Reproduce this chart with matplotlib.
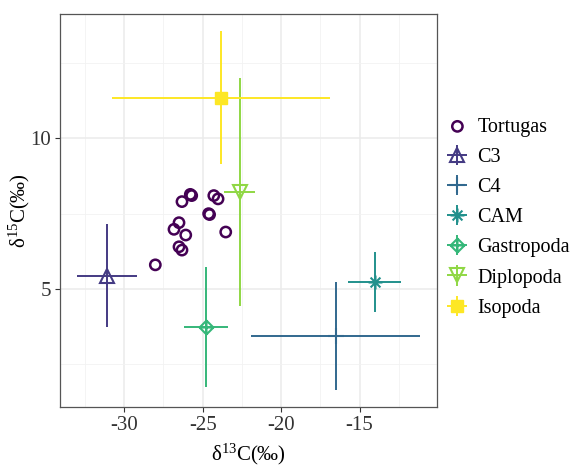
import matplotlib
matplotlib.use("Agg")
import matplotlib.pyplot as plt
from matplotlib.ticker import MultipleLocator
from matplotlib.path import Path
import numpy as np

plt.rcParams['font.family'] = ['Liberation Serif', 'DejaVu Serif']
plt.rcParams['mathtext.fontset'] = 'custom'
plt.rcParams['mathtext.rm'] = 'Liberation Serif'
plt.rcParams['axes.unicode_minus'] = False

# Tortugas individual points
tort_x = [-28.02, -26.83, -26.51, -26.08, -26.51, -26.32, -26.32, -25.79, -25.70,
          -24.62, -24.56, -24.29, -24.02, -23.53]
tort_y = [5.80, 6.98, 7.20, 6.79, 6.40, 6.29, 7.90, 8.14, 8.10,
          7.50, 7.47, 8.10, 7.99, 6.89]

# Group means and SD
groups = ["C3", "C4", "CAM", "Gastropoda", "Diplopoda", "Isopoda"]
grp_x = [-31.12, -16.53, -14.04, -24.80, -22.64, -23.83]
grp_y = [5.44, 3.45, 5.24, 3.74, 8.23, 11.35]
grp_xerr = [1.90, 5.38, 1.67, 1.39, 1.00, 6.98]
grp_yerr = [1.70, 1.79, 1.00, 2.00, 3.79, 2.21]

colors = ["#443A83", "#31688E", "#21908C", "#35B779", "#8FD744", "#FDE725"]

# asterisk marker (plus + x)
a = 1 / np.sqrt(2)
star_verts = [(0, -1), (0, 1), (-1, 0), (1, 0), (-a, -a), (a, a), (-a, a), (a, -a)]
star_codes = [Path.MOVETO, Path.LINETO] * 4
star = Path(star_verts, star_codes)
# diamond with plus
dv = [(0, -1), (1, 0), (0, 1), (-1, 0), (0, -1), (0, -1), (0, 1), (-1, 0), (1, 0)]
dc = [Path.MOVETO, Path.LINETO, Path.LINETO, Path.LINETO, Path.CLOSEPOLY,
      Path.MOVETO, Path.LINETO, Path.MOVETO, Path.LINETO]
dplus = Path(dv, dc)

styles = [
    dict(marker='^', ms=10, mfc='none', mew=1.5),
    dict(marker='+', ms=11, mew=1.5),
    dict(marker=star, ms=10, mfc='none', mew=1.5),
    dict(marker=dplus, ms=10, mfc='none', mew=1.5),
    dict(marker='v', ms=10, mfc='none', mew=1.5),
    dict(marker='s', ms=8, mew=1.0),
]

fig = plt.figure(figsize=(5.8, 4.66), dpi=100)
ax = fig.add_axes([0.1034, 0.1266, 0.65, 0.8434])

ax.set_xlim(-34.1, -10.06)
ax.set_ylim(1.08, 14.13)
ax.xaxis.set_major_locator(MultipleLocator(5))
ax.xaxis.set_minor_locator(MultipleLocator(2.5))
ax.yaxis.set_major_locator(MultipleLocator(5))
ax.yaxis.set_minor_locator(MultipleLocator(2.5))
ax.grid(which='major', color='#EBEBEB', lw=1.1, zorder=0)
ax.grid(which='minor', color='#F2F2F2', lw=0.6, zorder=0)
ax.set_axisbelow(True)
for s in ax.spines.values():
    s.set_color('#555555')
    s.set_linewidth(0.9)
ax.tick_params(which='major', length=3.5, color='#333333', labelsize=15, labelcolor='#333333', pad=3)
ax.tick_params(which='minor', length=0)

handles = []
h0 = ax.scatter(tort_x, tort_y, s=55, facecolors='none', edgecolors='#440154',
                linewidths=1.8, zorder=3, label='Tortugas')
handles.append(h0)

for g, x, y, xe, ye, c, st in zip(groups, grp_x, grp_y, grp_xerr, grp_yerr, colors, styles):
    eb = ax.errorbar(x, y, xerr=xe, yerr=ye, color=c, mec=c, elinewidth=1.4, capsize=0,
                     ls='none', zorder=3, label=g, **st)
    handles.append(eb)

ax.set_xlabel(r'$\mathregular{\delta^{13}C(‰)}$', fontsize=15, labelpad=5)
ax.set_ylabel(r'$\mathregular{\delta^{15}C(‰)}$', fontsize=15, labelpad=-1)

leg = fig.legend(handles=handles, labels=["Tortugas"] + groups,
                 loc='center left', bbox_to_anchor=(0.74, 0.533), frameon=False,
                 fontsize=14.5, handlelength=1.4, labelspacing=0.55, handletextpad=0.3,
                 borderpad=0.2)

fig.savefig('out.png', dpi=100)
